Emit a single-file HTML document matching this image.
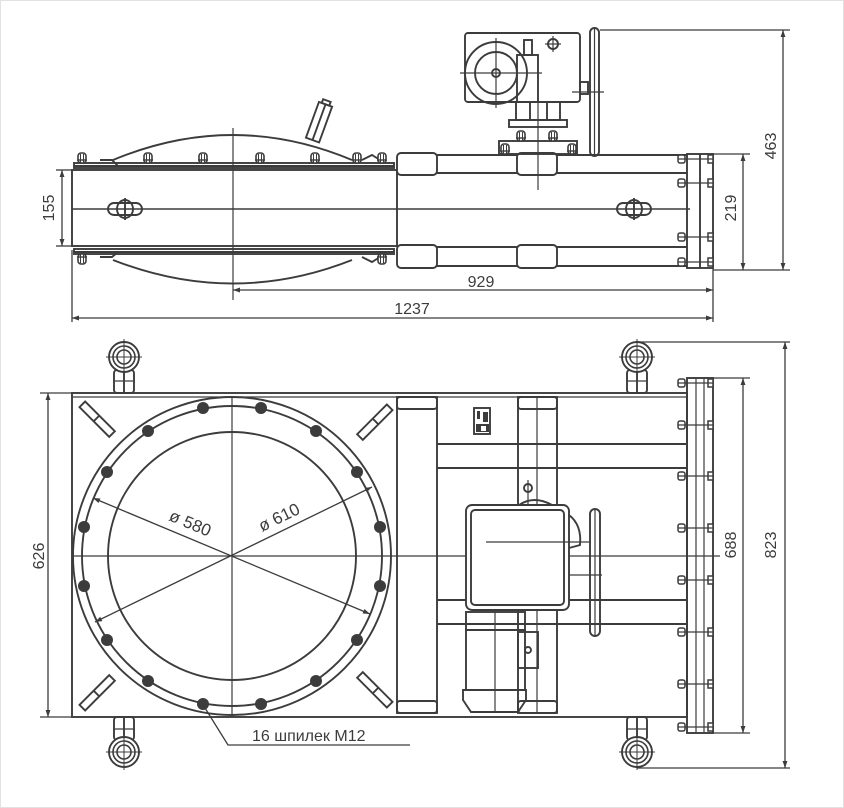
<!DOCTYPE html>
<html><head><meta charset="utf-8"><style>
html,body{margin:0;padding:0;background:#fff}
svg{display:block}
text{font-family:"Liberation Sans",sans-serif;fill:#3c3c3c}
</style></head><body>
<svg width="844" height="808" viewBox="0 0 844 808" xmlns="http://www.w3.org/2000/svg">
<defs>
<marker id="a" viewBox="0 0 10 10" refX="10" refY="5" markerWidth="12" markerHeight="7" orient="auto-start-reverse" markerUnits="userSpaceOnUse"><path d="M0,1.5 L10,5 L0,8.5z" fill="#3c3c3c"/></marker>
<g id="bu"><rect x="-4" y="-10" width="8" height="10" rx="3" fill="#fff" stroke="#3c3c3c" stroke-width="1.6"/><line x1="-1.5" y1="-9" x2="-1.5" y2="0" stroke="#3c3c3c"/><line x1="1.5" y1="-9" x2="1.5" y2="0" stroke="#3c3c3c"/><line x1="-5" y1="-3" x2="5" y2="-3" stroke="#3c3c3c" stroke-width="1.4"/></g>
<g id="bs"><rect x="-6" y="-4" width="7" height="8" rx="2" fill="#fff" stroke="#3c3c3c" stroke-width="1.5"/><rect x="24" y="-4" width="5" height="8" fill="#fff" stroke="#3c3c3c" stroke-width="1.5"/><line x1="-6" y1="0" x2="29" y2="0" stroke="#3c3c3c" stroke-width="1.2"/></g>
<g id="eye"><circle r="15" fill="#fff" stroke="#3c3c3c" stroke-width="1.9"/><circle r="11" fill="none" stroke="#3c3c3c" stroke-width="1.6"/><circle r="7" fill="none" stroke="#3c3c3c" stroke-width="1.6"/><line x1="-18" y1="0" x2="18" y2="0" stroke="#3c3c3c"/><line x1="0" y1="-18" x2="0" y2="18" stroke="#3c3c3c"/></g>
</defs>
<rect x="0.5" y="0.5" width="843" height="807" fill="none" stroke="#e2e2e2"/>
<g fill="none" stroke="#3c3c3c" stroke-width="1.9">
<path d="M113,160 Q233,110 352,160"/>
<path d="M113,260 Q233,307 352,260"/>
<g transform="translate(318,125) rotate(20)"><rect x="-7" y="-22" width="14" height="38" fill="#fff"/><line x1="0" y1="-22" x2="0" y2="16"/><rect x="-4" y="-26" width="8" height="4"/></g>
<rect x="72" y="170" width="325" height="76"/>
<rect x="74" y="163" width="320" height="5"/>
<line x1="74" y1="166" x2="394" y2="166"/>
<rect x="74" y="249" width="320" height="5"/>
<line x1="74" y1="252" x2="394" y2="252"/>
<line x1="397" y1="155" x2="687" y2="155"/>
<line x1="397" y1="173" x2="687" y2="173"/>
<line x1="397" y1="247" x2="687" y2="247"/>
<line x1="397" y1="266" x2="687" y2="266"/>
<rect x="397" y="153" width="40" height="22" rx="4" fill="#fff"/>
<rect x="517" y="153" width="40" height="22" rx="4" fill="#fff"/>
<rect x="397" y="245" width="40" height="23" rx="4" fill="#fff"/>
<rect x="517" y="245" width="40" height="23" rx="4" fill="#fff"/>
<line x1="72" y1="209" x2="690" y2="209" stroke-width="1.4"/>
<path d="M100,160 L112,160 L118,166" /><path d="M362,160 L372,155 L380,160"/>
<path d="M100,257 L112,257 L118,252"/><path d="M362,257 L372,262 L380,257"/>
<rect x="108" y="203" width="34" height="12" rx="6"/><ellipse cx="125" cy="209" rx="8" ry="9"/><line x1="125" y1="198" x2="125" y2="220"/>
<rect x="617" y="203" width="34" height="12" rx="6"/><ellipse cx="634" cy="209" rx="8" ry="9"/><line x1="634" y1="198" x2="634" y2="220"/>
<rect x="687" y="154" width="26" height="114"/>
<line x1="700" y1="154" x2="700" y2="268"/>
<rect x="465" y="33" width="115" height="69" rx="3"/>
<circle cx="496" cy="73" r="31"/><circle cx="496" cy="73" r="21"/><circle cx="496" cy="73" r="4"/>
<line x1="460" y1="73" x2="542" y2="73" stroke-width="1.2"/><line x1="496" y1="38" x2="496" y2="108" stroke-width="1.2"/>
<rect x="524" y="40" width="8" height="15"/><rect x="517" y="55" width="21" height="47"/>
<circle cx="553" cy="44" r="5"/><line x1="545" y1="44" x2="561" y2="44" stroke-width="1.2"/><line x1="553" y1="36" x2="553" y2="52" stroke-width="1.2"/>
<rect x="580" y="82" width="8" height="12"/>
<rect x="590" y="28" width="9" height="128" rx="4.5"/><line x1="594.5" y1="28" x2="594.5" y2="156" stroke-width="1.2"/>
<line x1="572" y1="92" x2="604" y2="92" stroke-width="1.2"/>
<rect x="516" y="102" width="44" height="18"/><line x1="530" y1="102" x2="530" y2="120"/><line x1="547" y1="102" x2="547" y2="120"/>
<rect x="509" y="120" width="58" height="7"/>
<rect x="499" y="141" width="78" height="13"/>
<line x1="538" y1="100" x2="538" y2="190" stroke-width="1.2"/>
<line x1="233" y1="128" x2="233" y2="300" stroke-width="1.2"/>
</g>
<g>
<use href="#bu" x="82" y="163"/><use href="#bu" x="148" y="163"/><use href="#bu" x="203" y="163"/><use href="#bu" x="260" y="163"/><use href="#bu" x="315" y="163"/><use href="#bu" x="357" y="163"/><use href="#bu" x="382" y="163"/>
<use href="#bu" x="82" y="254" transform="translate(0,508) scale(1,-1)"/><use href="#bu" x="382" y="254" transform="translate(0,508) scale(1,-1)"/>
<use href="#bu" x="521" y="141"/><use href="#bu" x="553" y="141"/><use href="#bu" x="505" y="154"/><use href="#bu" x="572" y="154"/>
<use href="#bs" x="684" y="159"/><use href="#bs" x="684" y="183"/><use href="#bs" x="684" y="237"/><use href="#bs" x="684" y="262"/>
</g>
<g stroke="#3c3c3c" stroke-width="1.3" fill="none">
<line x1="600" y1="30" x2="790" y2="30"/><line x1="783" y1="30" x2="783" y2="270" marker-start="url(#a)" marker-end="url(#a)"/><line x1="713" y1="270" x2="790" y2="270"/>
<line x1="713" y1="154" x2="750" y2="154"/><line x1="743" y1="154" x2="743" y2="270" marker-start="url(#a)" marker-end="url(#a)"/>
<line x1="62" y1="170" x2="62" y2="246" marker-start="url(#a)" marker-end="url(#a)"/><line x1="56" y1="170" x2="72" y2="170"/><line x1="56" y1="246" x2="72" y2="246"/>
<line x1="233" y1="290" x2="713" y2="290" marker-start="url(#a)" marker-end="url(#a)"/>
<line x1="713" y1="268" x2="713" y2="322"/>
<line x1="72" y1="250" x2="72" y2="322"/>
<line x1="72" y1="318" x2="713" y2="318" marker-start="url(#a)" marker-end="url(#a)"/>
</g>
<text x="481" y="287" font-size="16" text-anchor="middle">929</text>
<text x="412" y="314" font-size="16" text-anchor="middle">1237</text>
<text transform="translate(776,146) rotate(-90)" font-size="16" text-anchor="middle">463</text>
<text transform="translate(736,208) rotate(-90)" font-size="16" text-anchor="middle">219</text>
<text transform="translate(54,208) rotate(-90)" font-size="16" text-anchor="middle">155</text>

<g fill="none" stroke="#3c3c3c" stroke-width="1.9">
<rect x="72" y="393" width="615" height="324"/>
<line x1="72" y1="397" x2="687" y2="397" stroke-width="1.2"/>
<line x1="437" y1="444" x2="687" y2="444"/><line x1="437" y1="468" x2="687" y2="468"/>
<line x1="437" y1="600" x2="687" y2="600"/><line x1="437" y1="624" x2="687" y2="624"/>
<rect x="397" y="397" width="40" height="316"/><rect x="397" y="397" width="40" height="12" rx="3"/><rect x="397" y="701" width="40" height="12" rx="3"/>
<rect x="518" y="397" width="39" height="316"/><rect x="518" y="397" width="39" height="12" rx="3"/><rect x="518" y="701" width="39" height="12" rx="3"/>
<line x1="537" y1="397" x2="537" y2="713" stroke-width="1.2"/>
<g transform="translate(100,422) rotate(45)"><rect x="-25" y="-4" width="42" height="8"/><line x1="-5" y1="-4" x2="-5" y2="4"/></g>
<g transform="translate(100,690) rotate(-45)"><rect x="-25" y="-4" width="42" height="8"/><line x1="-5" y1="-4" x2="-5" y2="4"/></g>
<g transform="translate(372,425) rotate(135)"><rect x="-25" y="-4" width="42" height="8"/><line x1="-5" y1="-4" x2="-5" y2="4"/></g>
<g transform="translate(372,687) rotate(-135)"><rect x="-25" y="-4" width="42" height="8"/><line x1="-5" y1="-4" x2="-5" y2="4"/></g>
<circle cx="232" cy="556" r="159" fill="#fff"/>
<circle cx="232" cy="556" r="150"/>
<circle cx="232" cy="556" r="124"/>
<line x1="72" y1="556" x2="720" y2="556" stroke-width="1.2"/>
<line x1="232" y1="397" x2="232" y2="717" stroke-width="1.2"/>
<line x1="93" y1="498" x2="370" y2="614" stroke-width="1.3" marker-start="url(#a)" marker-end="url(#a)"/>
<line x1="95" y1="622" x2="372" y2="487" stroke-width="1.3" marker-start="url(#a)" marker-end="url(#a)"/>
<rect x="466" y="505" width="103" height="105" rx="6" fill="#fff"/>
<rect x="471" y="510" width="93" height="95" rx="4"/>
<path d="M569,515 Q582,525 580,545 L569,548"/>
<line x1="486" y1="542" x2="590" y2="542" stroke-width="1.2"/>
<line x1="570" y1="575" x2="602" y2="575" stroke-width="1.2"/>
<rect x="590" y="509" width="10" height="127" rx="5"/><line x1="595" y1="509" x2="595" y2="636" stroke-width="1.2"/>
<circle cx="528" cy="488" r="4"/><line x1="528" y1="480" x2="528" y2="505" stroke-width="1.2"/><path d="M519,505 Q534,495 552,505"/>
<rect x="466" y="612" width="59" height="18"/><rect x="466" y="630" width="59" height="60"/>
<rect x="518" y="632" width="20" height="36"/><circle cx="528" cy="650" r="3"/>
<path d="M463,690 L526,690 L526,700 L518,712 L471,712 L463,700 Z"/>
<line x1="495" y1="612" x2="495" y2="713" stroke-width="1.2"/>
<rect x="474" y="408" width="16" height="26" fill="#fff"/>
<rect x="477" y="411" width="3" height="8" fill="#3c3c3c" stroke="none"/><rect x="483" y="412" width="5" height="10" fill="#3c3c3c" stroke="none"/><rect x="476" y="424" width="13" height="8" fill="#3c3c3c" stroke="none"/><rect x="481" y="426" width="5" height="5" fill="#fff" stroke="none"/>
<rect x="687" y="378" width="26" height="355"/>
<line x1="696" y1="378" x2="696" y2="733" stroke-width="1.2"/><line x1="704" y1="378" x2="704" y2="733" stroke-width="1.2"/>
<rect x="114" y="370" width="20" height="23" rx="3" fill="#fff"/><line x1="124" y1="370" x2="124" y2="393"/><line x1="114" y1="381" x2="134" y2="381" stroke-width="1.2"/>
<rect x="114" y="717" width="20" height="23" rx="3" fill="#fff"/><line x1="124" y1="717" x2="124" y2="740"/><line x1="114" y1="729" x2="134" y2="729" stroke-width="1.2"/>
<rect x="627" y="370" width="20" height="23" rx="3" fill="#fff"/><line x1="637" y1="370" x2="637" y2="393"/><line x1="627" y1="381" x2="647" y2="381" stroke-width="1.2"/>
<rect x="627" y="717" width="20" height="23" rx="3" fill="#fff"/><line x1="637" y1="717" x2="637" y2="740"/><line x1="627" y1="729" x2="647" y2="729" stroke-width="1.2"/>
</g>
<use href="#eye" x="124" y="357"/><use href="#eye" x="124" y="752"/><use href="#eye" x="637" y="357"/><use href="#eye" x="637" y="752"/>
<g fill="#3c3c3c">
<circle cx="380" cy="586" r="6"/><circle cx="357" cy="640" r="6"/><circle cx="316" cy="681" r="6"/><circle cx="261" cy="704" r="6"/>
<circle cx="203" cy="704" r="6"/><circle cx="148" cy="681" r="6"/><circle cx="107" cy="640" r="6"/><circle cx="84" cy="586" r="6"/>
<circle cx="84" cy="527" r="6"/><circle cx="107" cy="472" r="6"/><circle cx="148" cy="431" r="6"/><circle cx="203" cy="408" r="6"/>
<circle cx="261" cy="408" r="6"/><circle cx="316" cy="431" r="6"/><circle cx="357" cy="472" r="6"/><circle cx="380" cy="527" r="6"/>
</g>
<g>
<use href="#bs" x="684" y="383"/><use href="#bs" x="684" y="425"/><use href="#bs" x="684" y="476"/><use href="#bs" x="684" y="528"/><use href="#bs" x="684" y="580"/><use href="#bs" x="684" y="632"/><use href="#bs" x="684" y="684"/><use href="#bs" x="684" y="727"/>
</g>
<g stroke="#3c3c3c" stroke-width="1.3" fill="none">
<line x1="40" y1="393" x2="72" y2="393"/><line x1="40" y1="717" x2="72" y2="717"/>
<line x1="48" y1="393" x2="48" y2="717" marker-start="url(#a)" marker-end="url(#a)"/>
<line x1="713" y1="378" x2="750" y2="378"/><line x1="713" y1="733" x2="750" y2="733"/>
<line x1="743" y1="378" x2="743" y2="733" marker-start="url(#a)" marker-end="url(#a)"/>
<line x1="637" y1="342" x2="790" y2="342"/><line x1="637" y1="768" x2="790" y2="768"/>
<line x1="785" y1="342" x2="785" y2="768" marker-start="url(#a)" marker-end="url(#a)"/>
<path d="M205,708 L228,745 L410,745"/>
</g>
<text x="168" y="520" font-size="17" transform="rotate(22.7 168 520)">ø 580</text>
<text x="262" y="532" font-size="17" transform="rotate(-26 262 532)">ø 610</text>
<text x="252" y="741" font-size="16">16 шпилек М12</text>
<text transform="translate(44,556) rotate(-90)" font-size="16" text-anchor="middle">626</text>
<text transform="translate(736,545) rotate(-90)" font-size="16" text-anchor="middle">688</text>
<text transform="translate(776,545) rotate(-90)" font-size="16" text-anchor="middle">823</text>
</svg>
</body></html>
